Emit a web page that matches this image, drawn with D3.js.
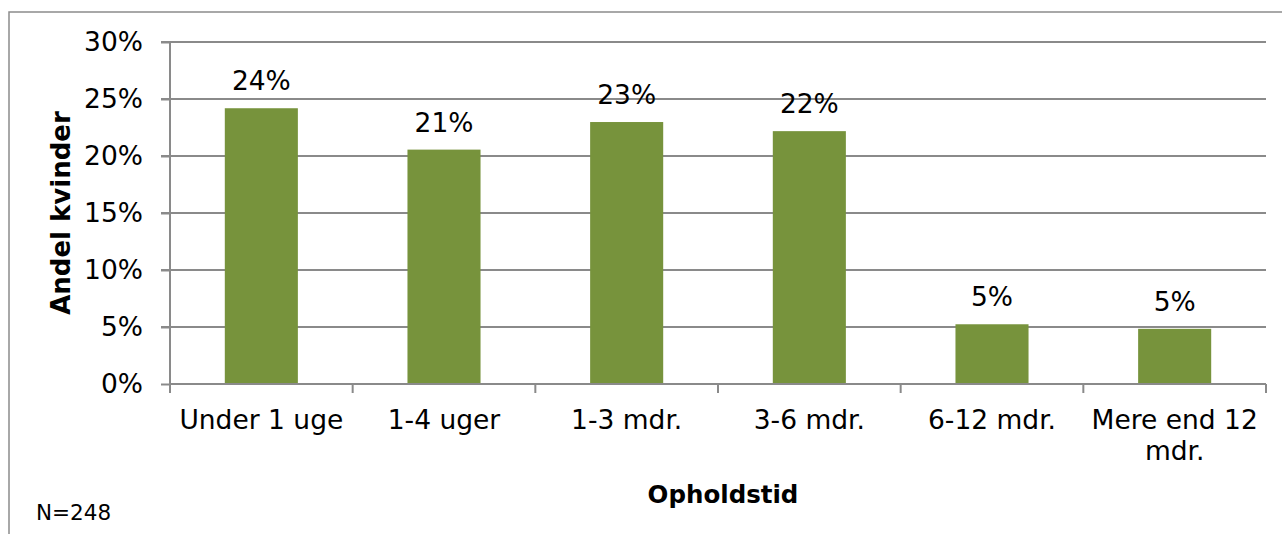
<!DOCTYPE html>
<html>
<head>
<meta charset="utf-8">
<script src="https://cdn.jsdelivr.net/npm/d3@7"></script>
<style>
  body { margin: 0; background: #fff; }
  svg text { font-family: Verdana, "DejaVu Sans", sans-serif; fill: #000; }
</style>
</head>
<body>
<div id="chart"></div>
<script>
// data
var categories = ["Under 1 uge", "1-4 uger", "1-3 mdr.", "3-6 mdr.", "6-12 mdr.", "Mere end 12 mdr."];
var shares = [24.19, 20.56, 22.98, 22.18, 5.24, 4.84];
var yTicks = [0, 5, 10, 15, 20, 25, 30];
var yTitle = "Andel kvinder";
var xTitle = "Opholdstid";
var note = "N=248";

// dimensions of the page and plot area
var W = 1282, H = 534;
var margin = {top: 42, right: 16, bottom: 150, left: 170},
    width = W - margin.left - margin.right,
    height = H - margin.top - margin.bottom;

var svg = d3.select("#chart").append("svg")
  .attr("width", W)
  .attr("height", H);

// outer chart frame (runs off right and bottom)
svg.append("rect")
  .attr("x", 9).attr("y", 12)
  .attr("width", W + 20).attr("height", H + 20)
  .attr("fill", "none")
  .attr("stroke", "#8c8c8c")
  .attr("stroke-width", 1.5);

var g = svg.append("g")
  .attr("transform", "translate(" + margin.left + "," + margin.top + ")");

// scales
var x = d3.scaleBand().domain(categories).range([0, width])
  .paddingInner(0.6).paddingOuter(0.3);
var y = d3.scaleLinear().domain([0, 30]).range([height, 0]);

// gridlines
g.append("g").selectAll("line")
  .data(yTicks.filter(function(d) { return d > 0; }))
  .enter().append("line")
  .attr("x1", -9).attr("x2", width)
  .attr("y1", function(d) { return y(d); })
  .attr("y2", function(d) { return y(d); })
  .attr("stroke", "#8a8a8a")
  .attr("stroke-width", 2);

// y axis
var yAxis = g.append("g")
  .call(d3.axisLeft(y).tickValues(yTicks).tickSize(9).tickPadding(18)
    .tickFormat(function(d) { return d + "%"; }));
yAxis.select(".domain").attr("stroke", "#8a8a8a").attr("stroke-width", 2)
  .attr("d", "M0,0V" + height);
yAxis.selectAll(".tick line").attr("stroke", "#8a8a8a").attr("stroke-width", 2);
yAxis.selectAll(".tick text").style("font-size", "26.5px")
  .style("font-family", 'Verdana, "DejaVu Sans", sans-serif');

// bars
g.selectAll(".bar")
  .data(shares)
  .enter().append("rect")
  .attr("class", "bar")
  .attr("x", function(d, i) { return x(categories[i]); })
  .attr("width", x.bandwidth())
  .attr("y", function(d) { return y(d); })
  .attr("height", function(d) { return height - y(d); })
  .attr("fill", "#77933c");

// value labels
g.selectAll(".val")
  .data(shares)
  .enter().append("text")
  .attr("class", "val")
  .attr("x", function(d, i) { return x(categories[i]) + x.bandwidth() / 2; })
  .attr("y", function(d) { return y(d) - 18; })
  .attr("text-anchor", "middle")
  .style("font-size", "26.5px")
  .text(function(d) { return Math.round(d) + "%"; });

// x axis line with ticks at band boundaries
g.append("line")
  .attr("x1", 0).attr("x2", width)
  .attr("y1", height).attr("y2", height)
  .attr("stroke", "#8a8a8a").attr("stroke-width", 2);
g.append("g").selectAll("line")
  .data(d3.range(categories.length + 1))
  .enter().append("line")
  .attr("x1", function(i) { return i * x.step(); })
  .attr("x2", function(i) { return i * x.step(); })
  .attr("y1", height).attr("y2", height + 9)
  .attr("stroke", "#8a8a8a").attr("stroke-width", 2);

// category labels, wrapped to band width
var lab = g.selectAll(".cat")
  .data(categories)
  .enter().append("text")
  .attr("class", "cat")
  .attr("text-anchor", "middle")
  .attr("transform", function(d) {
    return "translate(" + (x(d) + x.bandwidth() / 2) + "," + (height + 45) + ")";
  })
  .style("font-size", "26.5px");

lab.each(function(d) {
  var el = d3.select(this);
  var words = d.split(" ");
  var lines = [], line = [];
  var tmp = el.append("tspan");
  words.forEach(function(w) {
    line.push(w);
    tmp.text(line.join(" "));
    if (tmp.node().getComputedTextLength() > x.step() - 4 && line.length > 1) {
      line.pop();
      lines.push(line.join(" "));
      line = [w];
    }
  });
  lines.push(line.join(" "));
  tmp.remove();
  lines.forEach(function(l, k) {
    el.append("tspan").attr("x", 0).attr("y", k * 31).text(l);
  });
});

// axis titles
svg.append("text")
  .attr("transform", "translate(70," + (margin.top + height / 2) + ") rotate(-90)")
  .attr("text-anchor", "middle")
  .style("font-size", "26px")
  .style("font-weight", "bold")
  .text(yTitle);

svg.append("text")
  .attr("x", 723)
  .attr("y", 503)
  .attr("text-anchor", "middle")
  .style("font-size", "24.5px")
  .style("font-weight", "bold")
  .text(xTitle);

// sample size note
svg.append("text")
  .attr("x", 36)
  .attr("y", 520)
  .style("font-size", "21.5px")
  .text(note);
</script>
</body>
</html>
